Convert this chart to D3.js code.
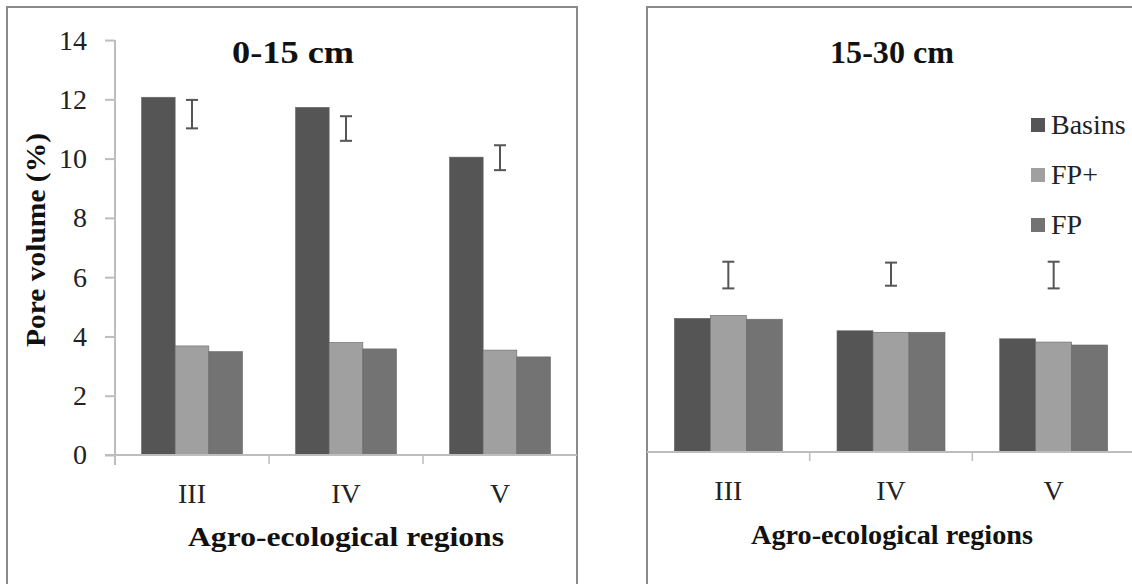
<!DOCTYPE html>
<html>
<head>
<meta charset="utf-8">
<script src="https://cdn.jsdelivr.net/npm/d3@7"></script>
<style>
  html, body { margin: 0; padding: 0; background: #fff; }
  svg { display: block; }
  text { font-family: "Liberation Serif", "Tinos", "Times New Roman", "Nimbus Roman", "DejaVu Serif", serif; }
</style>
</head>
<body>
<svg id="chart" width="1132" height="584"></svg>
<script>
// ---- data ----
const categories = ["III", "IV", "V"];
const seriesNames = ["Basins", "FP+", "FP"];
const seriesColors = ["#555555", "#a0a0a0", "#737373"];
const yTicks = [0, 2, 4, 6, 8, 10, 12, 14];

// 0-15 cm
const basinsTop = [12.07, 11.73, 10.05];
const fpPlusTop = [3.68, 3.80, 3.54];
const fpTop = [3.49, 3.58, 3.31];
const errLowTop = [11.02, 10.60, 9.61];
const errHighTop = [11.98, 11.43, 10.45];

// 15-30 cm
const basinsSub = [4.51, 4.09, 3.82];
const fpPlusSub = [4.61, 4.04, 3.71];
const fpSub = [4.48, 4.04, 3.61];
const errLowSub = [5.52, 5.61, 5.52];
const errHighSub = [6.42, 6.39, 6.42];

const svg = d3.select("#chart");
const FONT = '"Liberation Serif", "Tinos", "Times New Roman", "Nimbus Roman", "DejaVu Serif", serif';

function panel(opts) {
  const g = svg.append("g");
  g.append("rect")
    .attr("x", opts.frame[0]).attr("y", opts.frame[1])
    .attr("width", opts.frame[2]).attr("height", opts.frame[3])
    .attr("fill", "#fff").attr("stroke", "#8a8a8a").attr("stroke-width", 2);

  const y = d3.scaleLinear().domain([0, 14]).range([opts.y0, opts.y0 - 14 * opts.unit]);
  const x = d3.scaleBand().domain(categories).range(opts.xr)
    .paddingInner(opts.pad).paddingOuter(opts.pad / 2);
  const xs = d3.scaleBand().domain(seriesNames).range([0, x.bandwidth()]);

  const vals = [opts.basins, opts.fpPlus, opts.fp];
  const rows = categories.map((c, i) => ({ c, v: seriesNames.map((s, j) => ({ s, j, val: vals[j][i] })) }));

  if (opts.showY) {
    const ya = d3.axisLeft(y).tickValues(yTicks).tickSize(10).tickPadding(18);
    const ag = g.append("g").attr("transform", `translate(${opts.xr[0]},0)`).call(ya);
    ag.attr("font-family", FONT);
    ag.select(".domain").remove();
    ag.append("line").attr("x1", 0).attr("x2", 0).attr("y1", y(14)).attr("y2", opts.y0 + 10)
      .attr("stroke", "#bdbdbd").attr("stroke-width", 2);
    ag.selectAll(".tick line").attr("stroke", "#bdbdbd").attr("stroke-width", 2);
    ag.selectAll(".tick text").attr("font-family", FONT).attr("font-size", 28).attr("fill", "#222");
  }

  const bg = g.append("g");
  rows.forEach(r => {
    bg.selectAll(null).data(r.v).enter().append("rect")
      .attr("x", d => x(r.c) + xs(d.s))
      .attr("y", d => y(d.val))
      .attr("width", xs.bandwidth())
      .attr("height", d => y(0) - y(d.val))
      .attr("fill", d => seriesColors[d.j])
      .attr("stroke", "#6a6a6a").attr("stroke-width", 0.6);
  });

  const xa = g.append("g");
  xa.append("line").attr("x1", opts.xr[0] - (opts.showY ? 10 : 0)).attr("x2", opts.xr[1])
    .attr("y1", opts.y0).attr("y2", opts.y0).attr("stroke", "#bdbdbd").attr("stroke-width", 2);
  categories.forEach((c, i) => {
    if (i > 0) {
      const bx = x(c) - x.step() * x.paddingInner() / 2;
      xa.append("line").attr("x1", bx).attr("x2", bx).attr("y1", opts.y0).attr("y2", opts.y0 + 9)
        .attr("stroke", "#bdbdbd").attr("stroke-width", 1.5);
    }
  });
  xa.selectAll(null).data(categories).enter().append("text")
    .attr("x", d => x(d) + x.bandwidth() / 2)
    .attr("y", opts.catY)
    .attr("text-anchor", "middle")
    .attr("font-size", opts.catSize).attr("fill", "#222")
    .text(d => d);

  const eg = g.append("g").attr("stroke", "#555").attr("stroke-width", 2);
  categories.forEach((c, i) => {
    const cx = x(c) + x.bandwidth() / 2;
    eg.append("line").attr("x1", cx).attr("x2", cx).attr("y1", y(opts.errHigh[i])).attr("y2", y(opts.errLow[i]));
    eg.append("line").attr("x1", cx - 6).attr("x2", cx + 6).attr("y1", y(opts.errHigh[i])).attr("y2", y(opts.errHigh[i]));
    eg.append("line").attr("x1", cx - 6).attr("x2", cx + 6).attr("y1", y(opts.errLow[i])).attr("y2", y(opts.errLow[i]));
  });

  g.append("text").attr("x", opts.titleX).attr("y", 63).attr("text-anchor", "middle")
    .attr("font-size", opts.titleSize).attr("font-weight", "bold").attr("fill", "#111")
    .attr("textLength", opts.titleLen).attr("lengthAdjust", "spacingAndGlyphs")
    .text(opts.title);

  g.append("text").attr("x", opts.xtX).attr("y", opts.xtY).attr("text-anchor", "middle")
    .attr("font-size", opts.xtSize).attr("font-weight", "bold").attr("fill", "#111")
    .attr("textLength", opts.xtLen).attr("lengthAdjust", "spacingAndGlyphs")
    .text("Agro-ecological regions");

  return { g, x, y };
}

panel({
  frame: [7, 7, 570, 620], y0: 455, unit: 29.64, xr: [115, 577], pad: 0.344,
  basins: basinsTop, fpPlus: fpPlusTop, fp: fpTop, errLow: errLowTop, errHigh: errHighTop,
  showY: true, title: "0-15 cm", titleX: 293, titleSize: 32, titleLen: 122,
  catY: 503, catSize: 28, xtX: 346, xtY: 546, xtSize: 28, xtLen: 316
});

svg.append("text")
  .attr("transform", "translate(45,240) rotate(-90)")
  .attr("text-anchor", "middle")
  .attr("font-size", 28).attr("font-weight", "bold").attr("fill", "#111")
  .attr("textLength", 214).attr("lengthAdjust", "spacingAndGlyphs")
  .text("Pore volume (%)");

panel({
  frame: [647, 7, 620, 620], y0: 452, unit: 29.64, xr: [647, 1135], pad: 0.336,
  basins: basinsSub, fpPlus: fpPlusSub, fp: fpSub, errLow: errLowSub, errHigh: errHighSub,
  showY: false, title: "15-30 cm", titleX: 892, titleSize: 32, titleLen: 124,
  catY: 500, catSize: 28, xtX: 892, xtY: 544, xtSize: 28, xtLen: 282
});

const lg = svg.append("g");
const legendY = [125, 175, 225];
seriesNames.forEach((s, i) => {
  lg.append("rect").attr("x", 1031).attr("y", legendY[i] - 7).attr("width", 14).attr("height", 14)
    .attr("fill", seriesColors[i]);
  lg.append("text").attr("x", 1051).attr("y", legendY[i] + 9)
    .attr("font-size", 28).attr("fill", "#222").text(s);
});
</script>
</body>
</html>
